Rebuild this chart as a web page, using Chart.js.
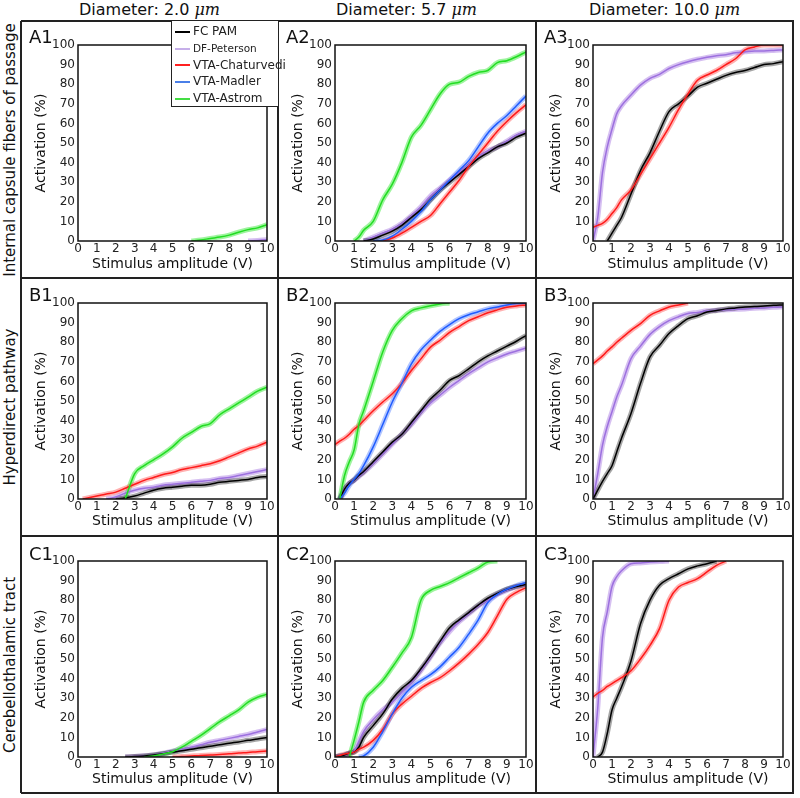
<!DOCTYPE html>
<html lang="en">
<head>
  <meta charset="UTF-8">
  <title>Activation vs stimulus amplitude</title>
  <script src="https://cdn.jsdelivr.net/npm/chart.js"></script>
  <style>
    body {
      margin: 0;
      padding: 0;
      background: #fff;
      font-family: "DejaVu Sans", sans-serif;
    }
    #fig {
      position: relative;
      width: 800px;
      height: 798px;
      overflow: hidden;
    }
    #fig canvas {
      position: absolute;
    }
    .coltitle {
      position: absolute;
      top: 0;
      width: 257px;
      text-align: center;
      font-size: 16px;
      line-height: 20px;
      color: #111;
    }
    .coltitle i {
      font-family: "DejaVu Serif", serif;
    }
    .rowtitle {
      position: absolute;
      left: 10px;
      font-size: 15px;
      line-height: 18px;
      white-space: nowrap;
      color: #111;
      transform: translate(-50%, -50%) rotate(-90deg);
    }
    .hline, .vline {
      position: absolute;
      background: #222;
    }
    .panel {
      position: absolute;
      font-size: 18px;
      line-height: 18px;
      color: #111;
      z-index: 3;
    }
    #legend {
      position: absolute;
      left: 171px;
      top: 20px;
      width: 106px;
      height: 85px;
      border: 1px solid #222;
      background: #fff;
      z-index: 4;
    }
    #legend .row {
      position: absolute;
      left: 3px;
      height: 16px;
      font-size: 12px;
      line-height: 16px;
      white-space: nowrap;
      color: #222;
    }
    #legend .swatch {
      display: inline-block;
      width: 15px;
      height: 2px;
      vertical-align: middle;
      margin-right: 3px;
    }
  </style>
</head>
<body>
  <div id="fig"></div>

  <script>
    const _ = null;

    // stimulus amplitudes (V), shared by every curve
    const volts = [0, 0.25, 0.5, 0.75, 1, 1.25, 1.5, 2, 2.5, 3, 3.5, 4, 4.5, 5, 5.5, 6, 6.5, 7, 7.5, 8, 8.5, 9, 9.5, 10];

    const methods = ['FC PAM', 'DF-Peterson', 'VTA-Chaturvedi', 'VTA-Madler', 'VTA-Astrom'];
    const diameters = ['2.0', '5.7', '10.0'];
    const pathways = ['Internal capsule fibers of passage', 'Hyperdirect pathway', 'Cerebellothalamic tract'];
    const panelNames = ['A1', 'A2', 'A3', 'B1', 'B2', 'B3', 'C1', 'C2', 'C3'];
    const xTicks = [0, 1, 2, 3, 4, 5, 6, 7, 8, 9, 10];
    const yTicks = [0, 10, 20, 30, 40, 50, 60, 70, 80, 90, 100];

    // Activation (%) — internal capsule
    const A1_DF = [_, _, _, _, _, _, _, _, _, _, _, _, _, _, _, _, _, _, _, _, _, 0, 0.3, 0.6];
    const A1_AS = [_, _, _, _, _, _, _, _, _, _, _, _, _, _, _, 0, 0.5, 1.3, 2, 3, 4.5, 5.8, 6.7, 8.3];

    const A2_FC = [_, _, _, _, _, _, 0, 1, 3, 5, 8, 12, 16, 21, 26, 30, 34, 38, 42, 45, 48, 50, 53, 55];
    const A2_DF = [_, _, _, _, _, _, 0, 2, 4, 6, 9, 13, 17.5, 23, 27, 31, 35, 39, 43, 46, 48, 51, 54, 56];
    const A2_CH = [_, _, _, _, _, _, _, _, 0, 1.5, 4, 7, 10, 13, 19, 25, 31, 38, 44, 50, 56, 61, 65.5, 69.5];
    const A2_MA = [_, _, _, _, _, _, _, 0, 0.5, 2.5, 6, 10, 15, 21, 26, 31, 36, 41, 48, 55, 60, 64, 69, 74];
    const A2_AS = [_, _, _, _, 0, 2, 5.5, 10, 21, 29, 40, 53, 59, 67, 75, 80, 81, 84, 86, 87, 91, 92, 94, 96.5];

    const A3_FC = [_, _, _, 0, 4, 8, 12, 24, 36, 45, 56, 66, 70, 74, 78.5, 80.5, 82.5, 84.5, 86, 87, 88.5, 90, 90.5, 91.5];
    const A3_DF = [0, 12, 35, 48, 57, 65, 69, 74.5, 79.5, 83, 85, 88, 90, 91.5, 92.7, 93.7, 94.5, 95, 96, 96.5, 97, 97, 97.2, 97.5];
    const A3_CH = [7, 8, 9, 11, 14, 17, 21, 26, 34, 42, 50, 58, 67, 75, 82, 84.7, 87, 90, 93, 97.5, 99, 100, 100, 100];

    // hyperdirect pathway
    const B1_FC = [_, _, _, _, _, _, _, 0, 0.5, 1.5, 3, 4.5, 5.5, 6, 6.5, 7, 7, 7.5, 8.5, 9, 9.5, 10, 11, 11.5];
    const B1_DF = [_, _, _, _, _, _, 0, 1, 3, 4.5, 5.5, 6, 7, 7.5, 8, 8.5, 9, 9.5, 10.5, 11, 12, 13, 14, 15];
    const B1_CH = [_, 0, 0.5, 1, 1.5, 2, 2.5, 3.5, 5.5, 7.5, 9.5, 11, 12.5, 13.5, 15, 16, 17, 18, 19.5, 21.5, 23.5, 25.5, 27, 29];
    const B1_AS = [_, _, _, _, _, _, _, _, 0, 13, 17, 20, 23, 26.6, 31, 34, 37, 38.5, 43, 46, 49, 52, 55, 57];

    const B2_FC = [_, 0, 5, 8, 9.7, 12, 14, 19, 24, 29, 33, 39, 45, 51, 55.5, 60.5, 63, 66.4, 70, 73, 75.5, 78, 80.5, 83.4];
    const B2_DF = [_, 0, 5, 8, 9.5, 11.5, 13.5, 18, 23, 28, 33, 38, 44, 49, 53, 57, 60.5, 64, 67, 70, 72, 74, 75.5, 77];
    const B2_CH = [27.8, 29.5, 31, 33, 35.6, 37.5, 40, 45, 49.5, 53.7, 59, 65.6, 71.5, 77.5, 81, 85, 88, 91, 93, 95, 96.5, 97.8, 98.5, 99];
    const B2_MA = [_, 0, 3, 7, 10, 13, 17, 26.6, 38, 49.5, 59, 69, 76, 81, 85.5, 89, 92, 94, 95.5, 97, 98, 99, 99.7, 100];
    const B2_AS = [_, 0, 12, 19, 25, 38, 45, 60, 75, 86, 92, 96, 97.5, 98.6, 99.5, 100, _, _, _, _, _, _, _, _];

    const B3_FC = [0, 4.5, 9, 13, 17, 24, 31, 43.6, 59, 72.5, 78.4, 84.4, 88.5, 92, 93.5, 95.4, 96.2, 97, 97.5, 98, 98.2, 98.5, 98.8, 99];
    const B3_DF = [0, 13, 27.5, 37, 44.5, 52, 58, 71.6, 78, 84, 88, 91, 93, 94.6, 95.2, 96, 96.3, 96.6, 96.8, 97, 97.3, 97.5, 97.8, 98];
    const B3_CH = [69, 71, 73, 75.5, 77.6, 80, 82, 86, 89.5, 93.7, 96, 98, 99, 100, _, _, _, _, _, _, _, _, _, _];

    // cerebellothalamic tract
    const C1_FC = [_, _, _, _, _, _, _, _, 0, 0.2, 0.5, 1, 1.7, 2.5, 3.2, 4, 4.7, 5.5, 6.2, 7, 7.7, 8.5, 9.2, 10];
    const C1_DF = [_, _, _, _, _, _, _, _, 0, 0.3, 0.6, 1, 2, 3, 4, 5, 6.2, 7.5, 8.5, 9.5, 10.5, 11.5, 12.8, 14];
    const C1_CH = [_, _, _, _, _, _, _, _, _, _, _, _, _, 0, 0.2, 0.5, 0.8, 1, 1.3, 1.6, 2, 2.3, 2.7, 3];
    const C1_AS = [_, _, _, _, _, _, _, _, _, _, 0, 0.5, 1.5, 2.7, 5, 8, 11, 14.5, 18, 21, 24, 28, 30.5, 32];

    const C2_FC = [0, 0.5, 1, 2, 2.5, 5, 10, 16, 22, 29.6, 35, 39, 45, 51.7, 59, 66, 70, 73.7, 77.5, 81, 83.5, 85.6, 87, 88];
    const C2_DF = [0, 0.5, 1, 2, 3, 8, 13, 19, 24, 28, 33, 38, 44, 51, 58, 64, 69, 73, 77, 80, 83, 85, 87, 88];
    const C2_CH = [0, 0.8, 1.5, 2, 2.5, 4, 5, 8.5, 14, 22, 27, 31, 35, 38, 40.5, 44, 48, 52.5, 57.5, 63.5, 72, 80.5, 84, 86.4];
    const C2_MA = [_, _, _, _, _, 0, 0.5, 5, 13, 22, 30, 35.6, 39, 42, 46, 51, 56, 62.7, 70, 78.8, 83, 85.6, 87.5, 89];
    const C2_AS = [_, _, _, 0, 8.5, 18, 28, 34, 39, 45.8, 53, 61, 80, 85, 87, 89, 91.5, 94, 96.5, 99.5, 100, _, _, _];

    const C3_FC = [_, 0, 2.5, 12, 24, 30, 35.7, 49, 68, 80, 87.6, 91, 93.5, 96, 97.5, 98.6, 100, _, _, _, _, _, _, _];
    const C3_DF = [0, 25, 61, 74, 87, 92, 95, 98.6, 99, 99.5, 99.7, 100, _, _, _, _, _, _, _, _, _, _, _, _];
    const C3_CH = [30.6, 32.5, 34, 36, 37.4, 39, 40.5, 44, 50, 57, 65.5, 80, 86.7, 89, 91, 94.4, 97.8, 100, _, _, _, _, _, _];

    // series per panel, in method order (null = not drawn)
    const panels = [
      [null, A1_DF, null, null, A1_AS],
      [A2_FC, A2_DF, A2_CH, A2_MA, A2_AS],
      [A3_FC, A3_DF, A3_CH, null, null],
      [B1_FC, B1_DF, B1_CH, null, B1_AS],
      [B2_FC, B2_DF, B2_CH, B2_MA, B2_AS],
      [B3_FC, B3_DF, B3_CH, null, null],
      [C1_FC, C1_DF, C1_CH, null, C1_AS],
      [C2_FC, C2_DF, C2_CH, C2_MA, C2_AS],
      [C3_FC, C3_DF, C3_CH, null, null]
    ];

    const lineColors = ['#000000', '#9d70df', '#ff1a1a', '#1f5cff', '#22dd22'];
    const bandColors = ['rgba(0,0,0,0.35)', 'rgba(165,115,225,0.45)', 'rgba(255,60,60,0.40)', 'rgba(60,110,255,0.40)', 'rgba(40,230,40,0.45)'];
    const legendColors = ['#000000', '#c6afe9', '#ff2020', '#4a7fe8', '#44dd44'];
    const lineOrder = [8, 9, 7, 6, 5];

    // layout of the 3x3 grid
    const cellX = [21, 278, 536];
    const cellY = [21, 278, 536];
    const cellSize = 257;
    const padTop = [24, 25, 25];
    const padRight = [11, 9, 10];
    const xAxisH = [37, 36, 36];

    const fig = document.getElementById('fig');
    const FONT = '"DejaVu Sans", sans-serif';

    // chart area frame
    const framePlugin = {
      id: 'frame',
      afterDraw(chart) {
        const a = chart.chartArea;
        const ctx = chart.ctx;
        ctx.save();
        ctx.strokeStyle = '#111';
        ctx.lineWidth = 1.5;
        ctx.strokeRect(a.left, a.top, a.right - a.left, a.bottom - a.top);
        ctx.restore();
      }
    };

    function addLine(cls, left, top, w, h) {
      const d = document.createElement('div');
      d.className = cls;
      d.style.left = left + 'px';
      d.style.top = top + 'px';
      d.style.width = w + 'px';
      d.style.height = h + 'px';
      fig.appendChild(d);
    }

    function createChart(canvas, series, r, c) {
      const datasets = [];
      series.forEach((vals, m) => {
        if (!vals) return;
        const pts = volts.map((v, k) => ({ x: v, y: vals[k] }));
        datasets.push({
          label: methods[m] + ' band',
          data: pts,
          borderColor: bandColors[m],
          borderWidth: 5,
          pointRadius: 0,
          cubicInterpolationMode: 'monotone',
          spanGaps: false,
          clip: 0,
          order: 50
        });
        datasets.push({
          label: methods[m],
          data: pts,
          borderColor: lineColors[m],
          borderWidth: 1.5,
          pointRadius: 0,
          cubicInterpolationMode: 'monotone',
          spanGaps: false,
          clip: 0,
          order: lineOrder[m]
        });
      });

      return new Chart(canvas.getContext('2d'), {
        type: 'line',
        data: { datasets: datasets },
        options: {
          responsive: false,
          animation: false,
          events: [],
          layout: { padding: { top: padTop[r], right: padRight[c], left: 0, bottom: 0 } },
          plugins: { legend: { display: false }, tooltip: { enabled: false } },
          scales: {
            x: {
              type: 'linear',
              min: 0,
              max: 10,
              afterBuildTicks: s => { s.ticks = xTicks.map(v => ({ value: v })); },
              afterFit: s => { s.height = xAxisH[r]; },
              ticks: { color: '#222', font: { family: FONT, size: 12 }, padding: 1, maxRotation: 0, autoSkip: false },
              grid: { display: false, drawTicks: false },
              border: { display: false },
              title: {
                display: true,
                text: 'Stimulus amplitude (V)',
                color: '#111',
                font: { family: FONT, size: 14 },
                padding: { top: 0, bottom: 5 }
              }
            },
            y: {
              min: 0,
              max: 100,
              afterBuildTicks: s => { s.ticks = yTicks.map(v => ({ value: v })); },
              afterFit: s => { s.width = 57; },
              ticks: { color: '#222', font: { family: FONT, size: 12 }, padding: 3 },
              grid: { display: false, drawTicks: false },
              border: { display: false },
              title: {
                display: true,
                text: 'Activation (%)',
                color: '#111',
                font: { family: FONT, size: 14 },
                padding: { top: 12, bottom: 0 }
              }
            }
          }
        },
        plugins: [framePlugin]
      });
    }

    // column and row titles
    diameters.forEach((d, c) => {
      const t = document.createElement('div');
      t.className = 'coltitle';
      t.style.left = cellX[c] + 'px';
      t.innerHTML = 'Diameter: ' + d + ' <i>μm</i>';
      fig.appendChild(t);
    });
    pathways.forEach((p, r) => {
      const t = document.createElement('div');
      t.className = 'rowtitle';
      t.style.top = (cellY[r] + cellSize / 2) + 'px';
      t.textContent = p;
      fig.appendChild(t);
    });

    // panels
    panels.forEach((series, i) => {
      const r = Math.floor(i / 3), c = i % 3;
      const cv = document.createElement('canvas');
      cv.width = cellSize;
      cv.height = cellSize;
      cv.style.left = cellX[c] + 'px';
      cv.style.top = cellY[r] + 'px';
      fig.appendChild(cv);
      createChart(cv, series, r, c);

      const lab = document.createElement('div');
      lab.className = 'panel';
      lab.style.left = (cellX[c] + 8) + 'px';
      lab.style.top = (cellY[r] + 7 + r) + 'px';
      lab.textContent = panelNames[i];
      fig.appendChild(lab);
    });

    // grid frame lines
    addLine('hline', 21, 20, 773, 2);
    addLine('hline', 21, 277, 773, 2);
    addLine('hline', 21, 535, 773, 2);
    addLine('hline', 21, 792, 773, 2);
    addLine('vline', 20, 21, 2, 772);
    addLine('vline', 277, 21, 2, 772);
    addLine('vline', 535, 21, 2, 772);
    addLine('vline', 792, 21, 2, 772);

    // legend
    const leg = document.createElement('div');
    leg.id = 'legend';
    methods.forEach((m, k) => {
      const row = document.createElement('div');
      row.className = 'row';
      row.style.top = (2 + k * 16.8) + 'px';
      if (k === 1) { row.style.fontSize = '10.5px'; }
      row.innerHTML = '<span class="swatch" style="background:' + legendColors[k] + '"></span>' + m;
      leg.appendChild(row);
    });
    fig.appendChild(leg);
  </script>
</body>
</html>
